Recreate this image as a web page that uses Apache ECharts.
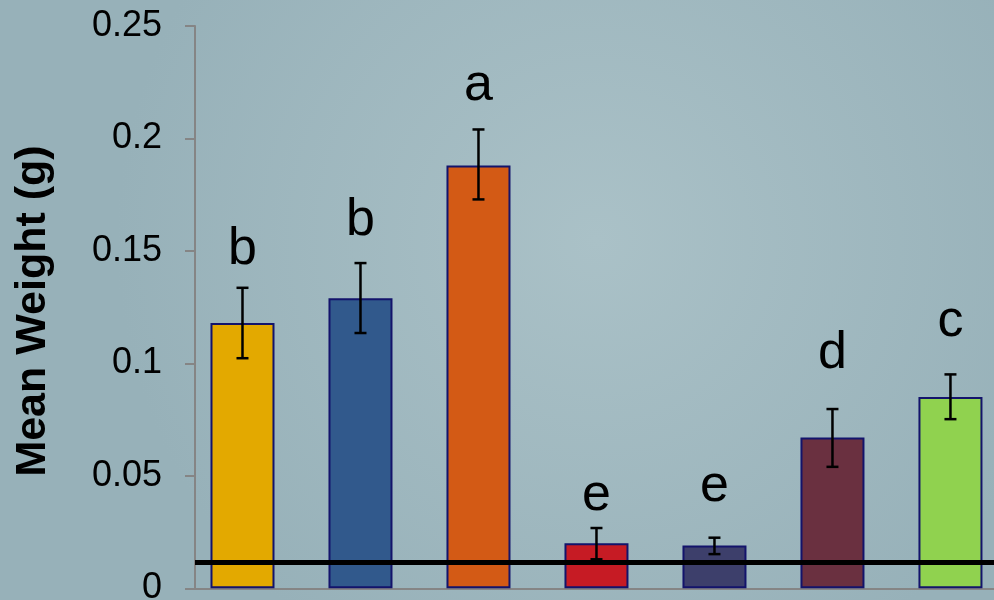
<!DOCTYPE html>
<html>
<head>
<meta charset="utf-8">
<title>Mean Weight</title>
<script src="https://cdn.jsdelivr.net/npm/echarts@6/dist/echarts.min.js"></script>
<style>
    html, body { margin: 0; padding: 0; }
    #chart { width: 994px; height: 600px; }
</style>
</head>
<body>
<div id="chart"></div>
<script>
// values
const groups = ['1', '2', '3', '4', '5', '6', '7'];
const means = [0.118, 0.129, 0.188, 0.020, 0.019, 0.067, 0.085];
const errUp = [0.1336, 0.1446, 0.204, 0.0268, 0.0225, 0.0797, 0.0951];
const errDown = [0.1023, 0.1135, 0.1729, 0.0129, 0.0152, 0.054, 0.0752];
const letters = ['b', 'b', 'a', 'e', 'e', 'd', 'c'];
const letterAt = [0.1441, 0.1566, 0.2167, 0.0345, 0.0385, 0.0975, 0.1118];
const yTicks = ['0', '0.05', '0.1', '0.15', '0.2', '0.25'];
const baseline = 0.0115;
const colors = ['#e3a900', '#31598c', '#d35a15', '#c61b24', '#3d3f6b', '#6a3040', '#90d24f'];

const chart = echarts.init(document.getElementById('chart'));

const barData = means.map((v, i) => ({
    value: [i, v],
    itemStyle: { color: colors[i] }
}));

const option = {
    animation: false,
    textStyle: { fontFamily: 'Liberation Sans, Arial, sans-serif' },
    graphic: [
        {
            type: 'rect',
            z: -10,
            silent: true,
            shape: { x: 0, y: 0, width: 994, height: 600 },
            style: {
                fill: {
                    type: 'radial', x: 0.6, y: 0.4, r: 0.8,
                    colorStops: [
                        { offset: 0, color: '#aac1c7' },
                        { offset: 1, color: '#97b1b9' }
                    ]
                }
            }
        },
        {
            type: 'text',
            x: 33,
            y: 311,
            rotation: Math.PI / 2,
            style: {
                text: 'Mean Weight (g)',
                font: 'bold 43px Liberation Sans, Arial, sans-serif',
                fill: '#000',
                align: 'center',
                verticalAlign: 'middle'
            }
        }
    ],
    grid: { left: 195, right: 0, top: 26, bottom: 11.7, outerBoundsMode: 'none', containLabel: false },
    xAxis: {
        type: 'value',
        min: -0.4025,
        max: 6.369,
        axisLine: { show: true, onZero: false, lineStyle: { color: '#858585', width: 2 } },
        axisTick: { show: false },
        axisLabel: { show: false },
        splitLine: { show: false }
    },
    yAxis: {
        type: 'value',
        min: 0,
        max: 0.25,
        interval: 0.05,
        axisLine: { show: true, onZero: false, lineStyle: { color: '#858585', width: 2 } },
        axisTick: { show: true, length: 10, lineStyle: { color: '#858585', width: 2 } },
        axisLabel: {
            color: '#000',
            fontSize: 36,
            margin: 33,
            formatter: (v, idx) => yTicks[idx]
        },
        splitLine: { show: false }
    },
    series: [
        {
            type: 'bar',
            barWidth: 64,
            data: barData,
            itemStyle: { borderColor: '#13136b', borderWidth: 2 },
            markLine: {
                silent: true,
                symbol: 'none',
                precision: 4,
                label: { show: false },
                lineStyle: { color: '#000', width: 5, type: 'solid' },
                data: [{ yAxis: baseline }]
            }
        },
        {
            // error bars
            type: 'custom',
            z: 5,
            data: groups.map((g, i) => [i, errDown[i], errUp[i]]),
            renderItem: (params, api) => {
                const lo = api.coord([api.value(0), api.value(1)]);
                const hi = api.coord([api.value(0), api.value(2)]);
                const cap = 6;
                const st = { stroke: '#000', lineWidth: 2.5 };
                return {
                    type: 'group',
                    children: [
                        { type: 'line', shape: { x1: lo[0], y1: lo[1], x2: hi[0], y2: hi[1] }, style: st },
                        { type: 'line', shape: { x1: hi[0] - cap, y1: hi[1], x2: hi[0] + cap, y2: hi[1] }, style: st },
                        { type: 'line', shape: { x1: lo[0] - cap, y1: lo[1], x2: lo[0] + cap, y2: lo[1] }, style: st }
                    ]
                };
            }
        },
        {
            // significance letters
            type: 'custom',
            z: 6,
            data: letters.map((l, i) => [i, letterAt[i]]),
            renderItem: (params, api) => {
                const p = api.coord([api.value(0), api.value(1)]);
                return {
                    type: 'text',
                    style: {
                        text: letters[params.dataIndex],
                        x: p[0],
                        y: p[1] + 11,
                        font: '52px Liberation Sans, Arial, sans-serif',
                        fill: '#000',
                        align: 'center',
                        verticalAlign: 'bottom'
                    }
                };
            }
        }
    ]
};

chart.setOption(option);
</script>
</body>
</html>
